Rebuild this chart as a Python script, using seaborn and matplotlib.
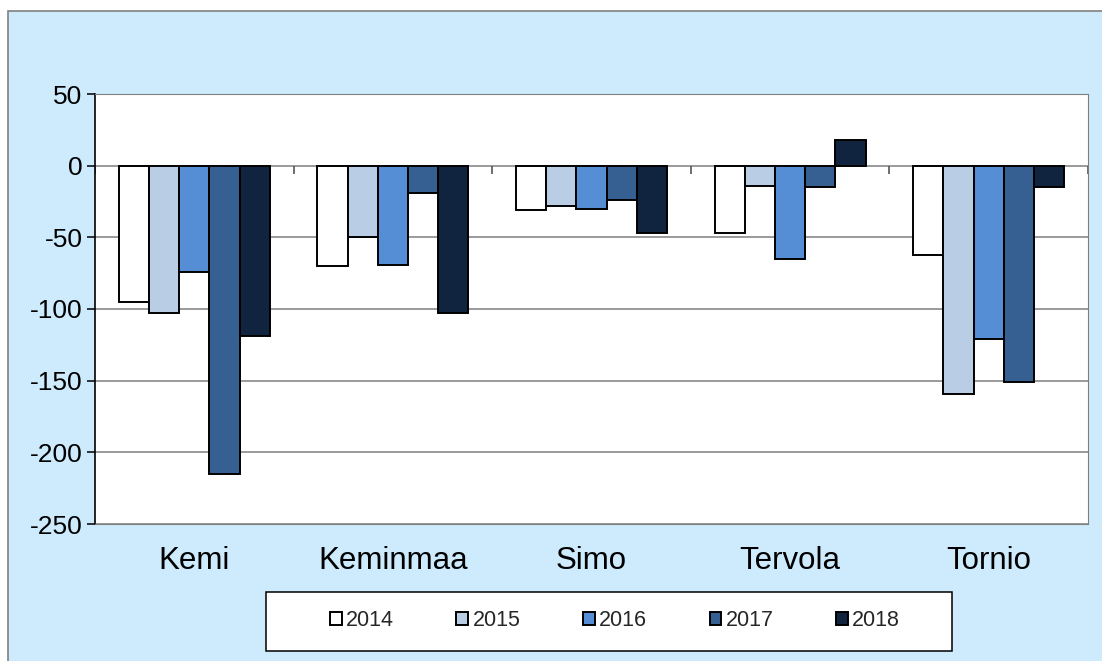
import pandas as pd
import seaborn as sns
import matplotlib.pyplot as plt
import numpy as np
from matplotlib.patches import Rectangle

kunnat = ['Kemi', 'Keminmaa', 'Simo', 'Tervola', 'Tornio']
vuodet = ['2014', '2015', '2016', '2017', '2018']
v2014 = [-95, -70, -31, -47, -62]
v2015 = [-103, -50, -28, -14, -159]
v2016 = [-74, -69, -30, -65, -121]
v2017 = [-215, -19, -24, -15, -151]
v2018 = [-119, -103, -47, 18, -15]
varit = ['#ffffff', '#b9cde5', '#558ed5', '#376092', '#10243f']

df = pd.DataFrame({
    'kunta': kunnat * 5,
    'vuosi': np.repeat(vuodet, len(kunnat)),
    'arvo': v2014 + v2015 + v2016 + v2017 + v2018,
})

sns.set_style('white')
plt.rcParams['font.family'] = ['Liberation Sans', 'DejaVu Sans']
plt.rcParams['axes.unicode_minus'] = False

fig = plt.figure(figsize=(11.02, 6.61), dpi=100, facecolor='white')
# light blue chart area with grey border (drawn behind the axes)
fig.patches.append(Rectangle((8 / 1102, -0.05), 1.1, 1 - 11 / 661 + 0.05,
                             transform=fig.transFigure, facecolor='#cdebfd',
                             edgecolor='#808080', linewidth=1.2, zorder=-2))
ax = fig.add_axes([95 / 1102, 1 - 524 / 661, (1088 - 95) / 1102, (524 - 94) / 661])
ax.set_facecolor('white')

sns.barplot(data=df, x='kunta', y='arvo', hue='vuosi', palette=varit, saturation=1,
            edgecolor='black', linewidth=1.4, width=0.76, ax=ax, zorder=3)

ax.set_xlim(-0.5, 4.5)
ax.set_ylim(-250, 50)
ax.set_yticks(np.arange(-250, 51, 50))
ax.yaxis.grid(True, color='#7f7f7f', linewidth=1.1, zorder=0)
ax.set_axisbelow(True)
for s in ['top', 'right', 'bottom']:
    ax.spines[s].set_color('#7f7f7f')
ax.spines['left'].set_color('black')
ax.spines['left'].set_linewidth(1.2)

# category separators on the zero line
ax.vlines(np.arange(-0.5, 5, 1), -6, 0, color='#555555', linewidth=1.2, zorder=2)

ax.tick_params(axis='y', left=True, length=6, width=1.1, color='black', pad=3,
               labelsize=19, labelcolor='black')
ax.tick_params(axis='x', bottom=False, pad=12, labelsize=22.5, labelcolor='black')
ax.set_xlabel('')
ax.set_ylabel('')

handles, labels = ax.get_legend_handles_labels()
ax.get_legend().remove()

fig.patches.append(Rectangle((266 / 1102, 1 - 651 / 661), 686 / 1102, 59 / 661,
                             transform=fig.transFigure, facecolor='white',
                             edgecolor='black', linewidth=1.1, zorder=1))
fig.legend(handles, labels, loc='center', bbox_to_anchor=(615 / 1102, 1 - 621 / 661),
           ncol=5, frameon=False, fontsize=15.5, handlelength=0.55, handleheight=0.55,
           handletextpad=0.2, columnspacing=2.9)

fig.savefig('out.png', dpi=100, facecolor=fig.get_facecolor())
